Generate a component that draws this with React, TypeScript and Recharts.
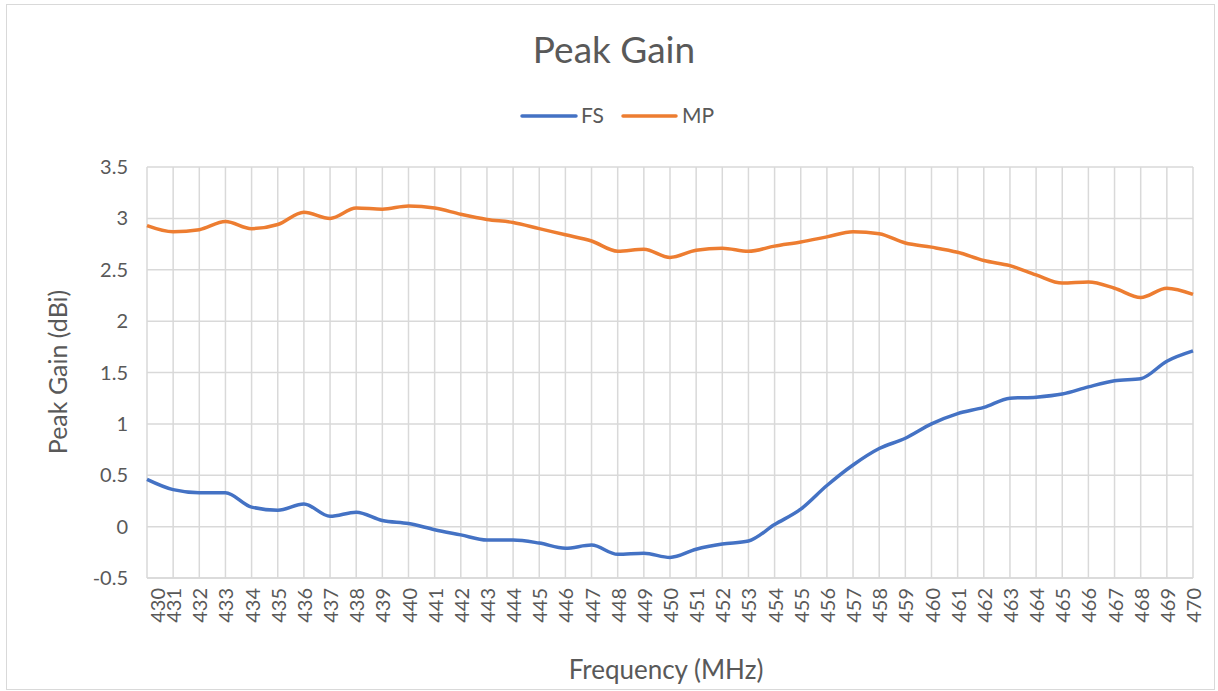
import { CartesianGrid, Line, LineChart, XAxis, YAxis } from "recharts";

const FREQUENCIES = [
  430, 431, 432, 433, 434, 435, 436, 437, 438, 439, 440, 441, 442, 443, 444, 445, 446, 447, 448, 449, 450,
  451, 452, 453, 454, 455, 456, 457, 458, 459, 460, 461, 462, 463, 464, 465, 466, 467, 468, 469, 470,
];

const FS = [
  0.46, 0.36, 0.33, 0.33, 0.19, 0.16, 0.22, 0.1, 0.14, 0.06, 0.03, -0.03, -0.08, -0.13, -0.13, -0.16, -0.21,
  -0.18, -0.27, -0.26, -0.3, -0.22, -0.17, -0.14, 0.02, 0.17, 0.4, 0.6, 0.76, 0.86, 1.0, 1.1, 1.16, 1.25, 1.26,
  1.29, 1.36, 1.42, 1.44, 1.61, 1.71,
];

const MP = [
  2.93, 2.87, 2.89, 2.97, 2.9, 2.94, 3.06, 3.0, 3.1, 3.09, 3.12, 3.1, 3.04, 2.99, 2.96, 2.9, 2.84, 2.78, 2.68,
  2.7, 2.62, 2.69, 2.71, 2.68, 2.73, 2.77, 2.82, 2.87, 2.85, 2.76, 2.72, 2.67, 2.59, 2.54, 2.45, 2.37, 2.38,
  2.32, 2.23, 2.32, 2.26,
];

const Y_TICKS = [-0.5, 0, 0.5, 1, 1.5, 2, 2.5, 3, 3.5];

const BLUE = "#4472C4";
const ORANGE = "#ED7D31";
const TEXT = "#595959";
const GRID = "#d9d9d9";
const FONT = "Lato, 'Noto Sans', sans-serif";

const data = FREQUENCIES.map((f, i) => ({ freq: f, FS: FS[i], MP: MP[i] }));

function FreqTick(props: any) {
  const { x, y, payload, index } = props;
  // Excel nudges the first label inward
  const dx = index === 0 ? 10 : 0;
  return (
    <g transform={`translate(${x + dx},${y + 10})`}>
      <text
        transform="rotate(-90)"
        textAnchor="end"
        dominantBaseline="central"
        fill={TEXT}
        fontSize={20}
        fontFamily={FONT}
      >
        {payload.value}
      </text>
    </g>
  );
}

export default function App() {
  return (
    <div
      style={{
        position: "absolute",
        left: 6,
        top: 4,
        width: 1209,
        height: 686,
        border: `1px solid ${GRID}`,
        boxSizing: "border-box",
        background: "#fff",
      }}
    >
      <LineChart
        width={1207}
        height={684}
        data={data}
        margin={{ top: 162, right: 21, left: 0, bottom: 0 }}
      >
        <CartesianGrid stroke={GRID} strokeWidth={1.5} />
        <XAxis
          dataKey="freq"
          type="number"
          domain={[430, 470]}
          ticks={FREQUENCIES}
          interval={0}
          height={111}
          tickLine={false}
          axisLine={{ stroke: GRID, strokeWidth: 1.5 }}
          tickSize={0}
          tickMargin={0}
          tick={<FreqTick />}
        />
        <YAxis
          type="number"
          domain={[-0.5, 3.5]}
          ticks={Y_TICKS}
          width={140}
          axisLine={false}
          tickLine={false}
          tickSize={0}
          tickMargin={19}
          tick={{ fill: TEXT, fontSize: 20, fontFamily: FONT }}
          tickFormatter={(v: number) => String(v)}
        />
        <Line
          type="monotone"
          dataKey="FS"
          stroke={BLUE}
          strokeWidth={3.5}
          dot={false}
          isAnimationActive={false}
        />
        <Line
          type="monotone"
          dataKey="MP"
          stroke={ORANGE}
          strokeWidth={3.5}
          dot={false}
          isAnimationActive={false}
        />
      </LineChart>
      <svg
        width={1207}
        height={684}
        style={{ position: "absolute", left: 0, top: 0, pointerEvents: "none" }}
        fontFamily={FONT}
      >
        <text x={607} y={58} textAnchor="middle" fontSize={37} fill={TEXT}>
          Peak Gain
        </text>
        <line x1={515} x2={569} y1={111} y2={111} stroke={BLUE} strokeWidth={3.5} strokeLinecap="round" />
        <text x={574} y={118} fontSize={21} fill={TEXT}>
          FS
        </text>
        <line x1={616} x2={669} y1={111} y2={111} stroke={ORANGE} strokeWidth={3.5} strokeLinecap="round" />
        <text x={675} y={118} fontSize={21} fill={TEXT}>
          MP
        </text>
        <text
          transform="translate(50,367) rotate(-90)"
          textAnchor="middle"
          dominantBaseline="central"
          fontSize={25}
          fill={TEXT}
        >
          Peak Gain (dBi)
        </text>
        <text x={659} y={674} textAnchor="middle" fontSize={26} fill={TEXT}>
          Frequency (MHz)
        </text>
      </svg>
    </div>
  );
}
